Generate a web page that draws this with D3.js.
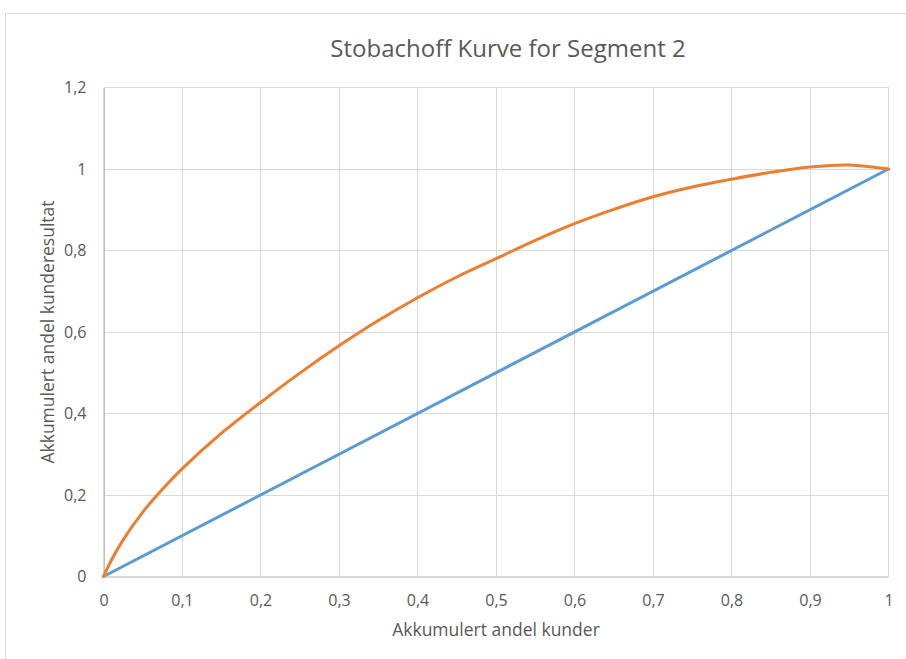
<!DOCTYPE html>
<html>
<head>
<meta charset="utf-8">
<script src="https://cdn.jsdelivr.net/npm/d3@7"></script>
<style>
  html, body { margin: 0; padding: 0; background: #ffffff; }
  svg { display: block; }
  text { font-family: "Open Sans", "Liberation Sans", sans-serif; fill: #595959; }
</style>
</head>
<body>
<svg id="chart" width="906" height="659"></svg>
<script>
// Cumulative share of customers (x) and cumulative share of customer result (y)
const shareCustomers = [0, 0.01, 0.025, 0.05, 0.075, 0.1, 0.15, 0.2, 0.25, 0.3, 0.35, 0.4, 0.45, 0.5,
                        0.55, 0.6, 0.65, 0.7, 0.75, 0.8, 0.85, 0.9, 0.95, 1];
const stobachoff = [0, 0.04, 0.09, 0.158, 0.214, 0.264, 0.351, 0.427, 0.499, 0.566, 0.628, 0.684, 0.735, 0.78,
                    0.825, 0.866, 0.901, 0.932, 0.956, 0.975, 0.992, 1.005, 1.01, 1];
// Reference diagonal
const diagonalX = [0, 1];
const diagonalY = [0, 1];

const xTicks = [0, 0.1, 0.2, 0.3, 0.4, 0.5, 0.6, 0.7, 0.8, 0.9, 1];
const yTicks = [0, 0.2, 0.4, 0.6, 0.8, 1, 1.2];

const titleText = "Stobachoff Kurve for Segment 2";
const xTitle = "Akkumulert andel kunder";
const yTitle = "Akkumulert andel kunderesultat";

const svg = d3.select("#chart");
const W = 906, H = 659;
const plot = { left: 103.5, right: 888.5, top: 87.5, bottom: 576.5 };

const x = d3.scaleLinear().domain([0, 1]).range([plot.left, plot.right]);
const y = d3.scaleLinear().domain([0, 1.2]).range([plot.bottom, plot.top]);

const fmt = v => d3.format("~g")(+v.toFixed(2)).replace(".", ",");

// chart frame
svg.append("rect")
  .attr("x", 5.5).attr("y", 13.5)
  .attr("width", W + 10).attr("height", H + 10)
  .attr("fill", "#ffffff").attr("stroke", "#d9d9d9").attr("stroke-width", 1);

// gridlines
svg.append("g").selectAll("line").data(xTicks).join("line")
  .attr("x1", d => x(d)).attr("x2", d => x(d))
  .attr("y1", plot.top).attr("y2", plot.bottom)
  .attr("stroke", "#d9d9d9").attr("stroke-width", 1)
  .attr("shape-rendering", "crispEdges");
svg.append("g").selectAll("line").data(yTicks).join("line")
  .attr("x1", plot.left).attr("x2", plot.right)
  .attr("y1", d => y(d)).attr("y2", d => y(d))
  .attr("stroke", "#d9d9d9").attr("stroke-width", 1)
  .attr("shape-rendering", "crispEdges");

// axes
const xAxis = svg.append("g")
  .attr("transform", `translate(0,${plot.bottom})`)
  .call(d3.axisBottom(x).tickValues(xTicks).tickFormat(fmt).tickSize(0).tickPadding(18));
const yAxis = svg.append("g")
  .attr("transform", `translate(${plot.left},0)`)
  .call(d3.axisLeft(y).tickValues(yTicks).tickFormat(fmt).tickSize(0).tickPadding(17));
[xAxis, yAxis].forEach(g => {
  g.select(".domain").attr("stroke", "#bfbfbf").attr("shape-rendering", "crispEdges");
  g.selectAll("text").attr("font-size", 16).attr("fill", "#595959")
    .attr("font-family", "'Open Sans', 'Liberation Sans', sans-serif");
});
xAxis.select(".domain").attr("stroke", "#d9d9d9");

// series
svg.append("path")
  .datum(diagonalX.map((v, i) => [v, diagonalY[i]]))
  .attr("d", d3.line().x(d => x(d[0])).y(d => y(d[1])))
  .attr("fill", "none")
  .attr("stroke", "#5B9BD5").attr("stroke-width", 3).attr("stroke-linecap", "round");
svg.append("path")
  .datum(shareCustomers.map((v, i) => [v, stobachoff[i]]))
  .attr("d", d3.line().x(d => x(d[0])).y(d => y(d[1])).curve(d3.curveCatmullRom.alpha(0.5)))
  .attr("fill", "none")
  .attr("stroke", "#ED7D31").attr("stroke-width", 3).attr("stroke-linecap", "round")
  .attr("stroke-linejoin", "round");

// titles
svg.append("text").attr("x", 508).attr("y", 57)
  .attr("text-anchor", "middle").attr("font-size", 24).text(titleText);
svg.append("text").attr("x", 496).attr("y", 636)
  .attr("text-anchor", "middle").attr("font-size", 17.5).text(xTitle);
svg.append("text")
  .attr("transform", `translate(54,${(plot.top + plot.bottom) / 2}) rotate(-90)`)
  .attr("text-anchor", "middle").attr("font-size", 17.5).text(yTitle);
</script>
</body>
</html>
